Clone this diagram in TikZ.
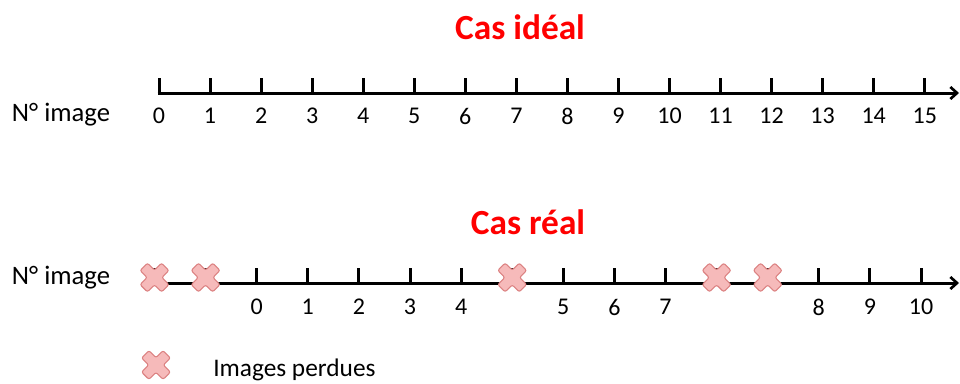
\documentclass[tikz,border=0pt]{standalone}
\usepackage{fontspec}
\setmainfont{Carlito}
\usetikzlibrary{arrows.meta,calc}
\definecolor{titlered}{RGB}{255,0,0}
\definecolor{crossfill}{RGB}{246,186,186}
\definecolor{crossline}{RGB}{220,130,130}
\tikzset{
  axisline/.style={line width=2.25pt, -{Straight Barb[length=5pt,width=9pt,line width=2pt]}},
  tickmark/.style={line width=2.25pt},
  num/.style={font=\fontsize{18}{20}\selectfont, inner sep=0pt},
  rowlabel/.style={font=\fontsize{20}{23}\selectfont, inner sep=0pt},
  legendtext/.style={font=\fontsize{19}{22}\selectfont, inner sep=0pt},
  titletext/.style={font=\fontsize{26.5}{29}\selectfont\bfseries, text=titlered, inner sep=0pt},
  lostx/.pic={
    \filldraw[fill=crossfill, draw=crossline, line width=0.8pt, rounded corners=1.5pt, rotate=45]
      (-5.2,-15.2) -- (5.2,-15.2) -- (5.2,-5.2) -- (15.2,-5.2) -- (15.2,5.2) -- (5.2,5.2)
      -- (5.2,15.2) -- (-5.2,15.2) -- (-5.2,5.2) -- (-15.2,5.2) -- (-15.2,-5.2) -- (-5.2,-5.2) -- cycle;
  }
}
\begin{document}
\begin{tikzpicture}[x=0.75pt,y=-0.75pt]
\useasboundingbox (0,0) rectangle (960,383);

% titles
\node[titletext] (ideal) at (520,27) {Cas idéal};
\node[titletext] (reel) at (528,222) {Cas réal};

% row labels
\node[rowlabel] (lab1) at (61,115) {N° image};
\node[rowlabel] (lab2) at (61,278) {N° image};

% ---- ideal axis ----
\coordinate (a0) at (159,93);
\coordinate (aend) at (959,93);
\foreach \k in {0,...,15} {
  \coordinate (tk\k) at ({159+51.05*\k},93);
  \draw[tickmark] ($(tk\k)+(0,-15)$) -- (tk\k);
}
\draw[axisline] ([xshift=-1.1pt]a0) -- (aend);
\foreach \k in {0,...,15} {
  \node[num] (n\k) at ({159+51.05*\k},116) {\k};
}

% ---- real axis ----
\coordinate (b0) at (154.5,283);
\coordinate (bend) at (959,283);
\foreach \k in {0,...,15} {
  \coordinate (sk\k) at ({154.5+51.1*\k},283);
  \draw[tickmark] ($(sk\k)+(0,-15)$) -- (sk\k);
}
\draw[axisline] (b0) -- (bend);
\foreach \k/\v in {2/0,3/1,4/2,5/3,6/4,8/5,9/6,10/7,13/8,14/9,15/10} {
  \node[num] (m\v) at ({154.5+51.1*\k},307) {\v};
}
\foreach \k in {0,1,7,11,12} {
  \pic at ({154.5+51.1*\k},277.5) {lostx};
}

% legend
\pic at (156,365) {lostx};
\node[legendtext, anchor=west] (legend) at (213,370) {Images perdues};
\end{tikzpicture}
\end{document}
